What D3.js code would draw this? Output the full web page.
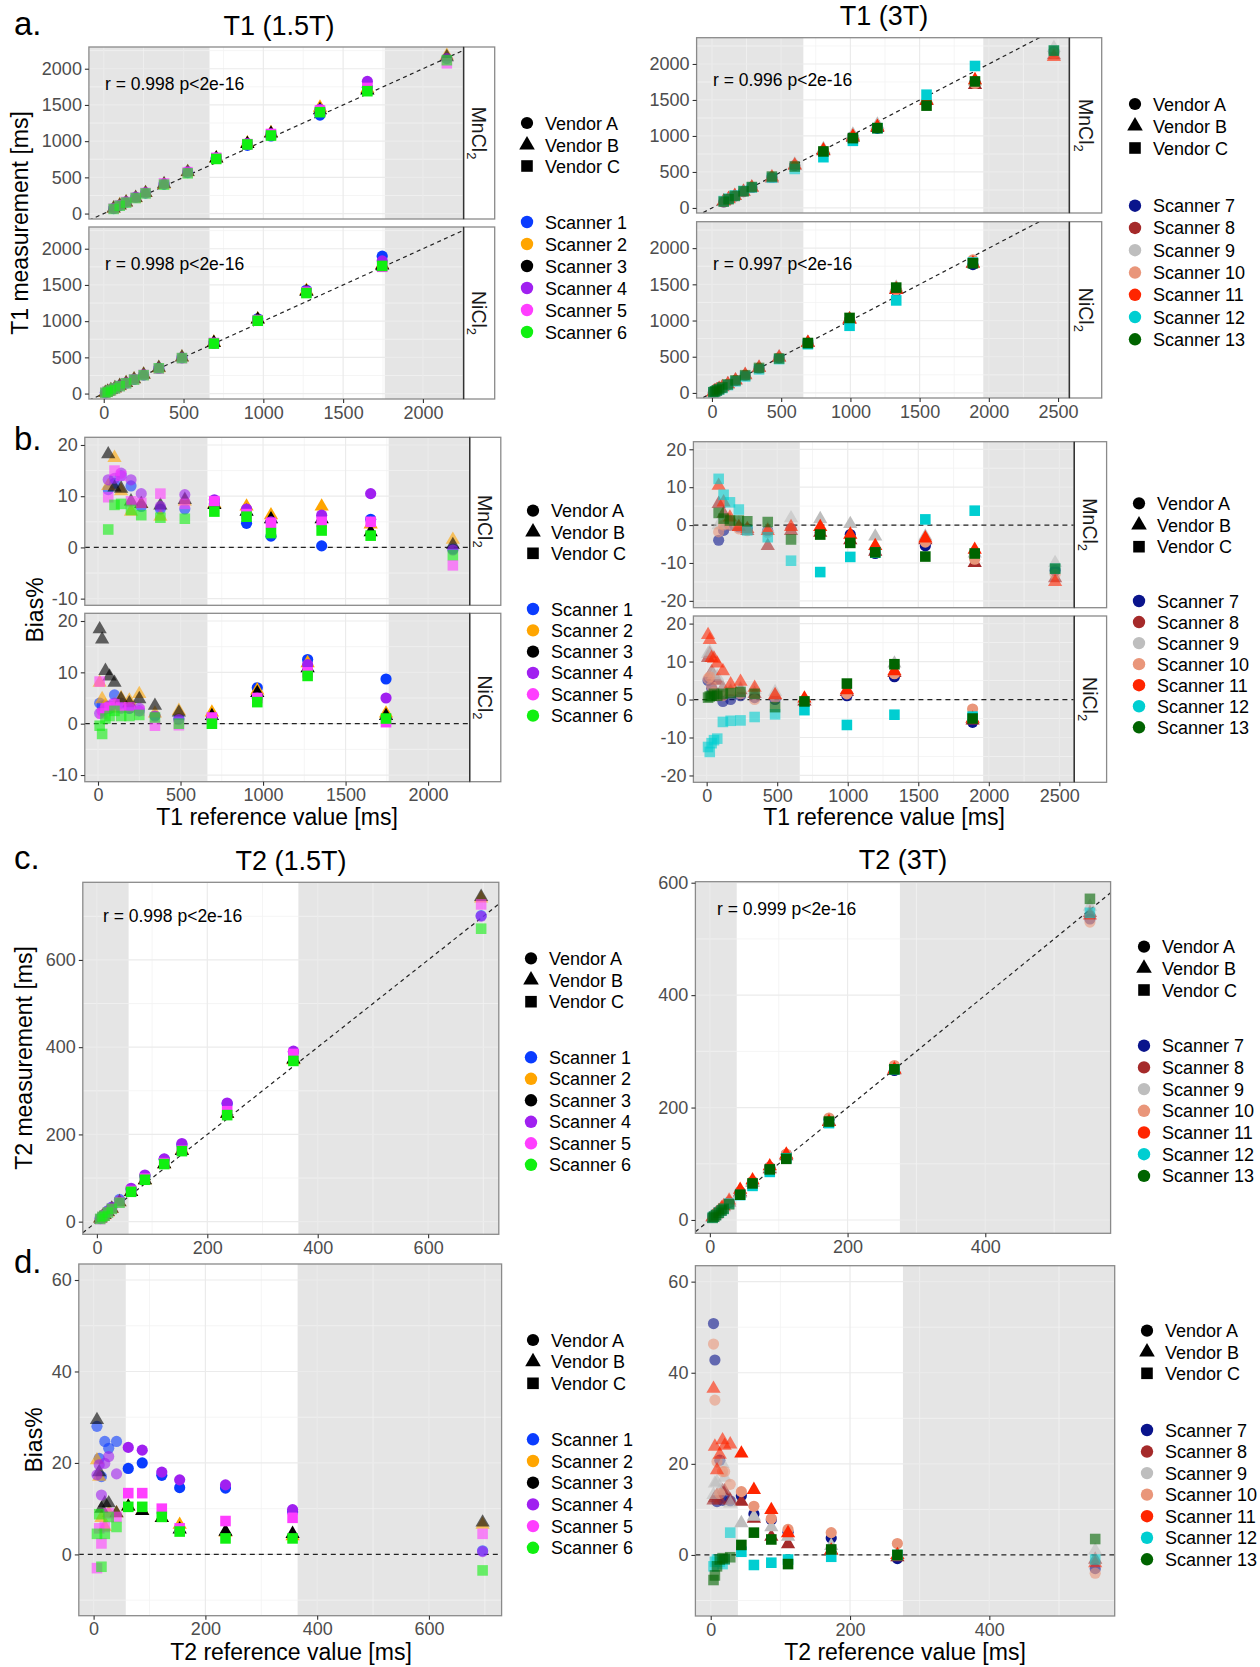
<!DOCTYPE html>
<html>
<head>
<meta charset="utf-8">
<script src="https://cdn.jsdelivr.net/npm/d3@7"></script>
<style>
  body { margin: 0; background: #fff; }
  text { font-family: "Liberation Sans", Arial, sans-serif; }
</style>
</head>
<body>
<svg id="fig" width="1260" height="1667"></svg>
<script>
// ---- scanners / vendors ----
const vendorNames = ["Vendor A", "Vendor B", "Vendor C"];
const scanners15 = ["Scanner 1", "Scanner 2", "Scanner 3", "Scanner 4", "Scanner 5", "Scanner 6"];
const colors15 = ["#0a3cff", "#ffa500", "#000000", "#a020f0", "#ff3eff", "#10f010"];
const vendor15 = ["A", "B", "B", "A", "C", "C"];
const scanners3 = ["Scanner 7", "Scanner 8", "Scanner 9", "Scanner 10", "Scanner 11", "Scanner 12", "Scanner 13"];
const colors3 = ["#0a148c", "#a52a2a", "#bebebe", "#e9967a", "#ff2500", "#00ced1", "#006400"];
const vendor3 = ["A", "B", "B", "A", "B", "C", "C"];

// ---- T1 1.5T ----
const t1_15_mn_ref = [62, 100, 140, 200, 262, 378, 526, 705, 900, 1048, 1355, 1652, 2150];
const t1_15_mn_bias = [
  [11.3, 12.5, 14, 12, 8, 7.5, 7.5, 8.5, 4.7, 2.2, 0.3, 5.5, -0.3],
  [12, 17.5, 11, 7, 8.5, 6, 9, 8.5, 8, 6.3, 8, 4.5, 1.5],
  [18.2, 11.7, 11.5, 9, 8.5, 8.2, 9.3, 8.3, 7, 5.5, 5.5, 3, 0.5],
  [13.2, 13.5, 14.5, 13.2, 10.5, 8, 10.3, 9.3, 7.5, 5, 6.3, 10.5, -0.5],
  [9.8, 15, 14, 9, 8.7, 10.5, 8.5, 9, 6.5, 4.8, 5, 5, -3.5],
  [3.5, 8.3, 8.5, 7.3, 6.3, 5.8, 5.6, 7, 6, 2.8, 3.3, 2.3, -1.5]
];
const t1_15_ni_ref = [10, 25, 45, 70, 100, 140, 190, 250, 345, 490, 690, 965, 1270, 1745];
const t1_15_ni_bias = [
  [4, 3.5, 3.5, 3, 5.6, 4, 3, 2.5, 1.5, 1, 1.2, 7, 12.5, 8.7],
  [8, 4.8, 3.5, 3, 3.5, 5, 4.5, 5.8, 2, 2.5, 2.2, 6.5, 11.8, 2],
  [18.4, 16.4, 10.3, 9.2, 8, 4.8, 4, 4.8, 3.5, 2.2, 1.5, 6, 10.8, 1.5],
  [2, 2.5, 3, 3.5, 4, 3, 3, 3, 1.5, 0.8, 1, 5, 11.5, 5],
  [8.2, 2, 3, 3.2, 3.8, 3.2, 3.2, 2.5, -0.4, -0.3, 1.2, 5, 10, 0.3],
  [-0.4, -2, 1, 1.5, 2.5, 1.5, 1.5, 1.7, 1.2, 0, 0, 4.2, 9.3, 1]
];

// ---- T1 3T ----
const t1_3_mn_ref = [85, 120, 165, 228, 288, 433, 598, 805, 1018, 1195, 1550, 1900, 2470];
const t1_3_mn_bias = [
  [-4, -1.4, 0, -0.5, -1, -1.5, -1, -2, -2.5, -7.5, -5.5, -8, -12],
  [5.6, 3, 1, -0.5, -1.5, -5.5, -1.5, -2, -4, -7, -4, -10, -14],
  [0, 0, 1, 0.5, -1, -1, 1.8, 1.6, 0.3, -3, -3, -7.5, -10],
  [-1.8, 0, 0, -1, -1.5, -2, -1, -2, -3.5, -6.5, -4.5, -9, -13],
  [10.4, 6, 2, -0.5, -1, -1.5, -0.5, -0.5, -2.5, -5.5, -3.5, -6.5, -15],
  [12.2, 8, 6, 4.1, -1.4, -3.2, -9.4, -12.4, -8.4, -7.3, 1.5, 3.8, -11.5],
  [3.2, 1.7, 1.2, 1.2, 1, 0.8, -3.8, -2.5, -4.7, -7.2, -8.3, -7.5, -11.5]
];
const t1_3_ni_ref = [10, 22, 35, 52, 75, 115, 170, 240, 340, 485, 693, 994, 1331, 1885];
const t1_3_ni_bias = [
  [5, 5.5, 3, 2, 1, -0.5, 0, 1, 0.5, 0, -1, 1, 6, -6],
  [11, 12, 7.2, 6, 5, 3, 2, 2.5, 1.5, 1, -0.5, 2, 7, -5.5],
  [12, 12.6, 7, 6.5, 6, 3, 2.5, 3, 2.5, 2, 0, 2.5, 9.5, -5],
  [5.5, 6, 3.5, 2, 1, 1, 2, 1.5, 0, 0.5, -0.5, 1.5, 6.8, -2.5],
  [17, 15.7, 11, 10.8, 9.5, 7.5, 4, 4.7, 3.1, 1.2, 0.3, 2.5, 7.5, -5],
  [-12.5, -13.8, -11.5, -10.7, -10.3, -5.9, -5.6, -5.5, -4.6, -3.9, -2.8, -6.7, -4, -4.5],
  [0.5, 0.8, 1, 1.5, 1, 1.5, 1.7, 2, 1.5, -2, -0.5, 4.2, 9.3, -5]
];

// ---- T2 1.5T ----
const t2_15_ref = [6, 10, 14, 20, 27, 41, 62, 87, 122, 154, 236, 356, 696];
const t2_15_bias = [
  [28, 21, 17, 24.7, 23.2, 24.7, 18.8, 20, 17.3, 14.6, 14.5, 9.3, 0.8],
  [20.6, 17, 8, 6, 9, 9, 10.5, 9.5, 8, 6.5, 4.8, 4, 6.5],
  [29.4, 18, 10, 11.2, 11.2, 9, 10.5, 9.5, 8, 5.5, 5, 4.5, 7],
  [17.4, 19.6, 13, 19.9, 21.4, 17.6, 23.4, 22.8, 18, 16.3, 15.2, 9.8, 0.6],
  [-3, 5.7, 2.4, 6, 9, 8.2, 13.4, 13.4, 10, 5.7, 7.3, 8, 4.5],
  [4.5, 8.8, -2.7, 4.5, 8.2, 6, 10.4, 10.4, 8.2, 5, 3.5, 3.5, -3.5]
];

// ---- T2 3T ----
const t2_3_ref = [4, 6, 9, 13, 17, 20, 28, 44, 62, 87, 111, 173, 268, 552];
const t2_3_bias = [
  [50.8, 42.8, 11.7, 20.8, 12, 12.5, 11.9, 13, 9, 7.7, 5, 3.7, -0.8, -3],
  [12, 12.5, 13, 12, 14, 14, 12, 11.7, 8, 4, 2.4, 1, -0.5, -1],
  [13.2, 15.7, 16, 14, 20, 17, 11.3, 7, 8.4, 6.1, 4, 2, 0, 1],
  [46.3, 34, 20.5, 13.5, 18.3, 18.3, 15.5, 13.9, 10.7, 8, 5.6, 4.9, 2.5, -4],
  [36.5, 23.8, 18.6, 22, 25.2, 24, 24.3, 22.3, 14.3, 9.9, 4.8, 1, 0, -1.8],
  [-2.5, -1.5, -1, -1.5, -2, -1, 4.9, 0.7, -2.2, -1.7, -1, -0.4, 0, -1],
  [-5.5, -4.5, -2.5, -1, -0.7, -0.9, -0.5, 2.2, 4.9, 3.4, -2, 1.2, 0, 3.5]
];

// shaded (out of range) reference intervals
const shadeT1_15 = [663, 1761];
const shadeT1_3 = [660, 1960];
const shadeT2_15 = [57.5, 365];
const shadeT2_3 = [39, 276];

const rLabels = ["r = 0.998 p<2e-16", "r = 0.998 p<2e-16", "r = 0.996 p<2e-16", "r = 0.997 p<2e-16",
                 "r = 0.998 p<2e-16", "r = 0.999 p<2e-16"];

const svg = d3.select("#fig");
const shapeOf = { A: d3.symbolCircle, B: d3.symbolTriangle, C: d3.symbolSquare };
const sizeOf = { A: 98, B: 88, C: 112 };
const SHADE = "#e5e5e5";
let clipId = 0;

function range(a, b, s) {
  const out = [];
  for (let v = a; v <= b + 1e-9; v += s) out.push(v);
  return out;
}

function panel(c) {
  const x = d3.scaleLinear().domain(c.xd).range([c.x0, c.x1]);
  const y = d3.scaleLinear().domain(c.yd).range([c.y1, c.y0]);
  const w = c.x1 - c.x0, h = c.y1 - c.y0;
  const g = svg.append("g");

  g.append("rect").attr("x", c.x0).attr("y", c.y0).attr("width", w).attr("height", h).attr("fill", "#fff");
  g.append("rect").attr("x", c.x0).attr("y", c.y0)
    .attr("width", x(c.shade[0]) - c.x0).attr("height", h).attr("fill", SHADE);
  g.append("rect").attr("x", x(c.shade[1])).attr("y", c.y0)
    .attr("width", c.x1 - x(c.shade[1])).attr("height", h).attr("fill", SHADE);

  // grid
  const grid = g.append("g");
  const vline = (v, col, sw) => grid.append("line").attr("x1", x(v)).attr("x2", x(v))
    .attr("y1", c.y0).attr("y2", c.y1).attr("stroke", col).attr("stroke-width", sw);
  const hline = (v, col, sw) => grid.append("line").attr("y1", y(v)).attr("y2", y(v))
    .attr("x1", c.x0).attr("x2", c.x1).attr("stroke", col).attr("stroke-width", sw);
  c.xMinor.forEach((v) => vline(v, "#f3f3f3", 0.8));
  c.yMinor.forEach((v) => hline(v, "#f3f3f3", 0.8));
  c.xTicks.forEach((v) => vline(v, "#ebebeb", 1.2));
  c.yTicks.forEach((v) => hline(v, "#ebebeb", 1.2));

  const id = "clip" + clipId++;
  svg.append("clipPath").attr("id", id).append("rect")
    .attr("x", c.x0).attr("y", c.y0).attr("width", w).attr("height", h);

  // reference line
  const ref = g.append("line").attr("clip-path", `url(#${id})`)
    .attr("stroke", "#222").attr("stroke-width", 1.2).attr("stroke-dasharray", "4,3.5");
  if (c.line === "identity") {
    ref.attr("x1", x(c.xd[0])).attr("y1", y(c.xd[0])).attr("x2", x(c.xd[1])).attr("y2", y(c.xd[1]));
  } else {
    ref.attr("x1", c.x0).attr("x2", c.x1).attr("y1", y(0)).attr("y2", y(0)).attr("stroke-dasharray", "5,4");
  }

  // points
  c.bias.forEach((vals, i) => {
    const v = c.vendors[i];
    const pts = c.refs.map((r, j) => ({
      x: r,
      y: c.measure ? r * (1 + vals[j] / 100) : vals[j]
    }));
    g.append("g").selectAll("path").data(pts).join("path")
      .attr("d", d3.symbol().type(shapeOf[v]).size(sizeOf[v]))
      .attr("transform", (d) => `translate(${x(d.x)},${y(d.y)})`)
      .attr("fill", c.colors[i])
      .attr("fill-opacity", (d) => (d.x < c.shade[0] || d.x > c.shade[1]) ? 0.6 : 1);
  });

  // r label
  if (c.rLabel) {
    g.append("text").attr("x", c.rx).attr("y", c.ry).attr("font-size", 17.5)
      .attr("fill", "#000").text(c.rLabel);
  }

  // border
  g.append("rect").attr("x", c.x0).attr("y", c.y0).attr("width", w).attr("height", h)
    .attr("fill", "none").attr("stroke", "#8a8a8a").attr("stroke-width", 1.3);

  // strip
  if (c.strip) {
    g.append("rect").attr("x", c.x1).attr("y", c.y0).attr("width", c.sx1 - c.x1).attr("height", h)
      .attr("fill", "#fff").attr("stroke", "#8a8a8a").attr("stroke-width", 1.3);
    g.append("line").attr("x1", c.x1).attr("x2", c.x1).attr("y1", c.y0).attr("y2", c.y1)
      .attr("stroke", "#333").attr("stroke-width", 1.4);
    const cx = (c.x1 + c.sx1) / 2 - 7, cy = (c.y0 + c.y1) / 2;
    const t = g.append("text").attr("transform", `translate(${cx},${cy}) rotate(90)`)
      .attr("text-anchor", "middle").attr("font-size", 19.5).attr("fill", "#1a1a1a");
    t.append("tspan").text(c.strip);
    t.append("tspan").attr("font-size", 13).attr("dy", 5).text("2");
  }

  // axes
  const yAxis = g.append("g").attr("transform", `translate(${c.x0},0)`)
    .call(d3.axisLeft(y).tickValues(c.yTicks).tickSize(4).tickPadding(3).tickFormat((d) => String(d)));
  styleAxis(yAxis);
  if (c.showX) {
    const xAxis = g.append("g").attr("transform", `translate(0,${c.y1})`)
      .call(d3.axisBottom(x).tickValues(c.xTicks).tickSize(4).tickPadding(3).tickFormat((d) => String(d)));
    styleAxis(xAxis);
  }
}

function styleAxis(ax) {
  ax.select(".domain").remove();
  ax.selectAll(".tick line").attr("stroke", "#333").attr("stroke-width", 1.1);
  ax.selectAll(".tick text").attr("font-size", 18).attr("fill", "#4d4d4d")
    .attr("font-family", "Liberation Sans, Arial, sans-serif");
}

function legend(c) {
  const g = svg.append("g");
  vendorNames.forEach((n, i) => {
    const v = ["A", "B", "C"][i];
    g.append("path").attr("d", d3.symbol().type(shapeOf[v]).size(sizeOf[v] * 1.2)())
      .attr("transform", `translate(${c.x},${c.vy[i]})`).attr("fill", "#000");
    g.append("text").attr("x", c.x + 18).attr("y", c.vy[i] + 6.5).attr("font-size", 18).text(n);
  });
  c.names.forEach((n, i) => {
    const yy = c.sy0 + i * c.step;
    g.append("circle").attr("cx", c.x).attr("cy", yy).attr("r", 6.2).attr("fill", c.colors[i]);
    g.append("text").attr("x", c.x + 18).attr("y", yy + 6.5).attr("font-size", 18).text(n);
  });
}

function label(txt, xx, yy, size, opts = {}) {
  const t = svg.append("text").attr("font-size", size).attr("fill", "#000").text(txt);
  if (opts.rotate) {
    t.attr("transform", `translate(${xx},${yy}) rotate(-90)`).attr("text-anchor", "middle");
  } else {
    t.attr("x", xx).attr("y", yy).attr("text-anchor", opts.anchor || "start");
  }
  return t;
}

// ===== a. T1 measurement =====
const t1Ticks = range(0, 2000, 500), t1Minor = range(250, 2250, 500);
const t1Ticks3 = range(0, 2500, 500), t1Minor3 = range(250, 2500, 500);

panel({ x0: 88.9, x1: 463.6, y0: 47, y1: 219, sx1: 494.7, xd: [-93, 2255], yd: [-75, 2300],
  xTicks: t1Ticks, xMinor: t1Minor, yTicks: t1Ticks, yMinor: t1Minor, shade: shadeT1_15,
  line: "identity", measure: true, refs: t1_15_mn_ref, bias: t1_15_mn_bias,
  colors: colors15, vendors: vendor15, strip: "MnCl", rLabel: rLabels[0], rx: 105, ry: 90 });
panel({ x0: 88.9, x1: 463.6, y0: 227, y1: 399, sx1: 494.7, xd: [-93, 2255], yd: [-75, 2300],
  xTicks: t1Ticks, xMinor: t1Minor, yTicks: t1Ticks, yMinor: t1Minor, shade: shadeT1_15,
  line: "identity", measure: true, refs: t1_15_ni_ref, bias: t1_15_ni_bias,
  colors: colors15, vendors: vendor15, strip: "NiCl", showX: true, rLabel: rLabels[1], rx: 105, ry: 270 });

panel({ x0: 696.6, x1: 1069.4, y0: 37.7, y1: 213, sx1: 1101.7, xd: [-111, 2582], yd: [-70, 2365],
  xTicks: t1Ticks3, xMinor: t1Minor3, yTicks: t1Ticks, yMinor: t1Minor, shade: shadeT1_3,
  line: "identity", measure: true, refs: t1_3_mn_ref, bias: t1_3_mn_bias,
  colors: colors3, vendors: vendor3, strip: "MnCl", rLabel: rLabels[2], rx: 713, ry: 86 });
panel({ x0: 696.6, x1: 1069.4, y0: 221.7, y1: 398, sx1: 1101.7, xd: [-111, 2582], yd: [-70, 2365],
  xTicks: t1Ticks3, xMinor: t1Minor3, yTicks: t1Ticks, yMinor: t1Minor, shade: shadeT1_3,
  line: "identity", measure: true, refs: t1_3_ni_ref, bias: t1_3_ni_bias,
  colors: colors3, vendors: vendor3, strip: "NiCl", showX: true, rLabel: rLabels[3], rx: 713, ry: 270 });

// ===== b. T1 bias =====
const b15Ticks = [-10, 0, 10, 20], b15Minor = [-5, 5, 15];
const b3Ticks = [-20, -10, 0, 10, 20], b3Minor = [-15, -5, 5, 15];
panel({ x0: 84.8, x1: 469.7, y0: 437.3, y1: 605.3, sx1: 500.8, xd: [-80, 2252], yd: [-11.3, 21.5],
  xTicks: t1Ticks, xMinor: t1Minor, yTicks: b15Ticks, yMinor: b15Minor, shade: shadeT1_15,
  line: "zero", measure: false, refs: t1_15_mn_ref, bias: t1_15_mn_bias,
  colors: colors15, vendors: vendor15, strip: "MnCl" });
panel({ x0: 84.8, x1: 469.7, y0: 613.3, y1: 781.7, sx1: 500.8, xd: [-80, 2252], yd: [-11.3, 21.5],
  xTicks: t1Ticks, xMinor: t1Minor, yTicks: b15Ticks, yMinor: b15Minor, shade: shadeT1_15,
  line: "zero", measure: false, refs: t1_15_ni_ref, bias: t1_15_ni_bias,
  colors: colors15, vendors: vendor15, strip: "NiCl", showX: true });

panel({ x0: 693.4, x1: 1074.3, y0: 441.7, y1: 607.7, sx1: 1106.6, xd: [-94, 2606], yd: [-21.8, 22],
  xTicks: t1Ticks3, xMinor: t1Minor3, yTicks: b3Ticks, yMinor: b3Minor, shade: shadeT1_3,
  line: "zero", measure: false, refs: t1_3_mn_ref, bias: t1_3_mn_bias,
  colors: colors3, vendors: vendor3, strip: "MnCl" });
panel({ x0: 693.4, x1: 1074.3, y0: 616, y1: 782.3, sx1: 1106.6, xd: [-94, 2606], yd: [-21.8, 22],
  xTicks: t1Ticks3, xMinor: t1Minor3, yTicks: b3Ticks, yMinor: b3Minor, shade: shadeT1_3,
  line: "zero", measure: false, refs: t1_3_ni_ref, bias: t1_3_ni_bias,
  colors: colors3, vendors: vendor3, strip: "NiCl", showX: true });

// ===== c. T2 measurement =====
panel({ x0: 82.8, x1: 498.8, y0: 882.3, y1: 1234.3, xd: [-25.5, 728], yd: [-29, 778],
  xTicks: [0, 200, 400, 600], xMinor: [100, 300, 500, 700], yTicks: [0, 200, 400, 600], yMinor: [100, 300, 500, 700],
  shade: shadeT2_15, line: "identity", measure: true, refs: t2_15_ref, bias: t2_15_bias,
  colors: colors15, vendors: vendor15, showX: true, rLabel: rLabels[4], rx: 103, ry: 922 });
panel({ x0: 695.4, x1: 1110.6, y0: 881.7, y1: 1233.3, xd: [-21, 582], yd: [-23.7, 601.8],
  xTicks: [0, 200, 400], xMinor: [100, 300, 500], yTicks: [0, 200, 400, 600], yMinor: [100, 300, 500],
  shade: shadeT2_3, line: "identity", measure: true, refs: t2_3_ref, bias: t2_3_bias,
  colors: colors3, vendors: vendor3, showX: true, rLabel: rLabels[5], rx: 717, ry: 915 });

// ===== d. T2 bias =====
panel({ x0: 78.8, x1: 501.6, y0: 1264, y1: 1615.7, xd: [-26.5, 730], yd: [-13.4, 63.5],
  xTicks: [0, 200, 400, 600], xMinor: [100, 300, 500, 700], yTicks: [0, 20, 40, 60], yMinor: [-10, 10, 30, 50],
  shade: shadeT2_15, line: "zero", measure: false, refs: t2_15_ref, bias: t2_15_bias,
  colors: colors15, vendors: vendor15, showX: true });
panel({ x0: 695.4, x1: 1114.7, y0: 1265.7, y1: 1616, xd: [-22, 580], yd: [-13.4, 63.5],
  xTicks: [0, 200, 400], xMinor: [100, 300, 500], yTicks: [0, 20, 40, 60], yMinor: [-10, 10, 30, 50],
  shade: shadeT2_3, line: "zero", measure: false, refs: t2_3_ref, bias: t2_3_bias,
  colors: colors3, vendors: vendor3, showX: true });

// ===== legends =====
legend({ x: 527, vy: [123, 145, 166], sy0: 222, step: 22, names: scanners15, colors: colors15 });
legend({ x: 1135, vy: [104, 126, 148], sy0: 205.7, step: 22.27, names: scanners3, colors: colors3 });
legend({ x: 533, vy: [510.7, 532, 553.3], sy0: 609, step: 21.33, names: scanners15, colors: colors15 });
legend({ x: 1139, vy: [503.3, 525, 546.7], sy0: 601, step: 21.05, names: scanners3, colors: colors3 });
legend({ x: 531, vy: [958.3, 980, 1001.7], sy0: 1057.3, step: 21.5, names: scanners15, colors: colors15 });
legend({ x: 1144, vy: [946.7, 968.3, 990], sy0: 1045.7, step: 21.7, names: scanners3, colors: colors3 });
legend({ x: 533, vy: [1340, 1361.7, 1383.3], sy0: 1439.3, step: 21.7, names: scanners15, colors: colors15 });
legend({ x: 1147, vy: [1330.7, 1352, 1373.3], sy0: 1430, step: 21.55, names: scanners3, colors: colors3 });

// ===== titles and axis titles =====
label("a.", 14, 35, 33);
label("b.", 14, 450, 33);
label("c.", 14, 869, 33);
label("d.", 14, 1273, 33);
label("T1 (1.5T)", 279, 35, 27, { anchor: "middle" });
label("T1 (3T)", 884, 25, 27, { anchor: "middle" });
label("T2 (1.5T)", 291, 870, 27, { anchor: "middle" });
label("T2 (3T)", 903, 869, 27, { anchor: "middle" });

label("T1 measurement [ms]", 28, 223, 23, { rotate: true });
label("Bias%", 43, 610, 23, { rotate: true });
label("T2 measurement [ms]", 32, 1058, 23, { rotate: true });
label("Bias%", 42, 1440, 23, { rotate: true });

label("T1 reference value [ms]", 277, 825, 23, { anchor: "middle" });
label("T1 reference value [ms]", 884, 825, 23, { anchor: "middle" });
label("T2 reference value [ms]", 291, 1660, 23, { anchor: "middle" });
label("T2 reference value [ms]", 905, 1660, 23, { anchor: "middle" });
</script>
</body>
</html>
